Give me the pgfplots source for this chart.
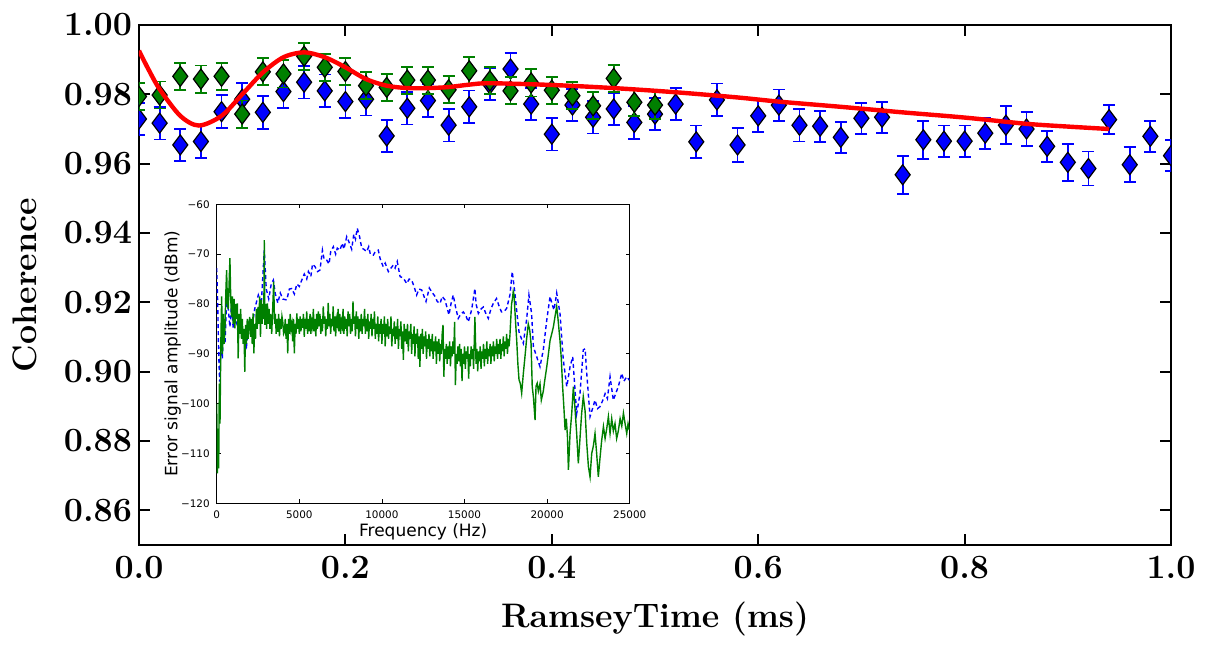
\documentclass[border=0pt]{standalone}
\usepackage{fontspec}
\usepackage{pgfplots}
\pgfplotsset{compat=1.18}
\usetikzlibrary{calc}
\newfontfamily\dejavu{DejaVu Sans}
\definecolor{mplgreen}{rgb}{0,0.5,0}
\begin{document}
\begin{tikzpicture}
\begin{axis}[name=main, scale only axis, width=516pt, height=260pt,
  xmin=0, xmax=1, ymin=0.85, ymax=1.0,
  xtick={0,0.2,0.4,0.6,0.8,1.0},
  ytick={0.86,0.88,0.90,0.92,0.94,0.96,0.98,1.00},
  tick align=inside, major tick length=5.5pt,
  every tick/.style={black, line width=1pt},
  axis line style={line width=1.3pt},
  /pgf/number format/assume math mode=true,
  tick label style={font=\fontsize{17}{20}\selectfont\bfseries},
  xticklabel style={/pgf/number format/.cd, fixed, fixed zerofill, precision=1},
  yticklabel style={/pgf/number format/.cd, fixed, fixed zerofill, precision=2},
  xticklabel shift=2pt,
  xlabel={RamseyTime (ms)}, ylabel={Coherence},
  label style={font=\fontsize{17}{20}\selectfont\bfseries},
  xlabel style={at={(axis description cs:0.5,-0.1423)}, anchor=center},
  ylabel style={at={(axis description cs:-0.1105,0.5)}, anchor=center},
  clip marker paths=true,
]
\addplot[only marks, mark=diamond*, mark size=5pt,
  mark options={draw=black, fill=blue, line width=0.6pt},
  error bars/.cd, y dir=both, y explicit,
  error bar style={blue, line width=0.9pt},
  error mark options={rotate=90, blue, line width=0.9pt, mark size=3pt}]
coordinates {
(0.00,0.9729) +- (0,0.0047)
(0.02,0.9717) +- (0,0.0047)
(0.04,0.9654) +- (0,0.0047)
(0.06,0.9664) +- (0,0.0047)
(0.08,0.9750) +- (0,0.0047)
(0.10,0.9786) +- (0,0.0047)
(0.12,0.9748) +- (0,0.0047)
(0.14,0.9808) +- (0,0.0047)
(0.16,0.9835) +- (0,0.0047)
(0.18,0.9810) +- (0,0.0047)
(0.20,0.9779) +- (0,0.0047)
(0.22,0.9786) +- (0,0.0047)
(0.24,0.9680) +- (0,0.0047)
(0.26,0.9760) +- (0,0.0047)
(0.28,0.9782) +- (0,0.0047)
(0.30,0.9711) +- (0,0.0047)
(0.32,0.9764) +- (0,0.0047)
(0.34,0.9830) +- (0,0.0047)
(0.36,0.9873) +- (0,0.0047)
(0.38,0.9772) +- (0,0.0047)
(0.40,0.9685) +- (0,0.0047)
(0.42,0.9769) +- (0,0.0047)
(0.44,0.9734) +- (0,0.0047)
(0.46,0.9758) +- (0,0.0047)
(0.48,0.9719) +- (0,0.0047)
(0.50,0.9743) +- (0,0.0047)
(0.52,0.9772) +- (0,0.0047)
(0.54,0.9663) +- (0,0.0047)
(0.56,0.9784) +- (0,0.0047)
(0.58,0.9654) +- (0,0.0050)
(0.60,0.9738) +- (0,0.0047)
(0.62,0.9769) +- (0,0.0045)
(0.64,0.9711) +- (0,0.0047)
(0.66,0.9708) +- (0,0.0045)
(0.68,0.9676) +- (0,0.0045)
(0.70,0.9731) +- (0,0.0045)
(0.72,0.9734) +- (0,0.0045)
(0.74,0.9568) +- (0,0.0055)
(0.76,0.9669) +- (0,0.0055)
(0.78,0.9665) +- (0,0.0045)
(0.80,0.9665) +- (0,0.0045)
(0.82,0.9688) +- (0,0.0045)
(0.84,0.9711) +- (0,0.0055)
(0.86,0.9700) +- (0,0.0050)
(0.88,0.9650) +- (0,0.0045)
(0.90,0.9604) +- (0,0.0053)
(0.92,0.9586) +- (0,0.0049)
(0.94,0.9727) +- (0,0.0042)
(0.96,0.9597) +- (0,0.0050)
(0.98,0.9679) +- (0,0.0045)
(1.00,0.9623) +- (0,0.0045)
};
\addplot[only marks, mark=diamond*, mark size=5pt,
  mark options={draw=black, fill=mplgreen, line width=0.6pt},
  error bars/.cd, y dir=both, y explicit,
  error bar style={mplgreen, line width=0.9pt},
  error mark options={rotate=90, mplgreen, line width=0.9pt, mark size=3pt}]
coordinates {
(0.00,0.9794) +- (0,0.0039)
(0.02,0.9798) +- (0,0.0039)
(0.04,0.9852) +- (0,0.0039)
(0.06,0.9844) +- (0,0.0039)
(0.08,0.9852) +- (0,0.0039)
(0.10,0.9743) +- (0,0.0039)
(0.12,0.9865) +- (0,0.0039)
(0.14,0.9859) +- (0,0.0039)
(0.16,0.9910) +- (0,0.0039)
(0.18,0.9878) +- (0,0.0039)
(0.20,0.9866) +- (0,0.0039)
(0.22,0.9825) +- (0,0.0039)
(0.24,0.9820) +- (0,0.0039)
(0.26,0.9841) +- (0,0.0039)
(0.28,0.9841) +- (0,0.0039)
(0.30,0.9813) +- (0,0.0039)
(0.32,0.9868) +- (0,0.0039)
(0.34,0.9839) +- (0,0.0039)
(0.36,0.9810) +- (0,0.0039)
(0.38,0.9833) +- (0,0.0039)
(0.40,0.9812) +- (0,0.0039)
(0.42,0.9796) +- (0,0.0039)
(0.44,0.9767) +- (0,0.0039)
(0.46,0.9846) +- (0,0.0039)
(0.48,0.9777) +- (0,0.0039)
(0.50,0.9769) +- (0,0.0039)
};
\addplot[red, line width=2.2pt, smooth] coordinates {
(0.000,0.9926) (0.009,0.9873) (0.020,0.9815) (0.040,0.9738) (0.058,0.9710)
(0.080,0.9738) (0.100,0.9800) (0.120,0.9863) (0.140,0.9907) (0.160,0.9921)
(0.180,0.9907) (0.200,0.9878) (0.220,0.9844) (0.240,0.9825) (0.260,0.9818)
(0.280,0.9818) (0.300,0.9821) (0.320,0.9828) (0.340,0.9832) (0.400,0.9827)
(0.460,0.9818) (0.520,0.9806) (0.580,0.9791) (0.620,0.9779) (0.680,0.9764)
(0.740,0.9748) (0.800,0.9733) (0.860,0.9715) (0.900,0.9707) (0.940,0.9700)
};
\end{axis}
\begin{axis}[at={($(main.south west)+(38.85pt,20.85pt)$)}, anchor=south west,
  scale only axis, width=206.5pt, height=149.5pt,
  xmin=0, xmax=25000, ymin=-120, ymax=-60,
  scaled x ticks=false, scaled y ticks=false,
  xtick={0,5000,10000,15000,20000,25000},
  xticklabels={0,5000,10000,15000,20000,25000},
  ytick={-120,-110,-100,-90,-80,-70,-60},
  yticklabels={−120,−110,−100,−90,−80,−70,−60},
  axis background/.style={fill=white},
  tick align=inside, major tick length=2pt,
  every tick/.style={black, line width=0.4pt},
  axis line style={line width=0.5pt},
  tick label style={font=\dejavu\fontsize{5.2}{6}\selectfont},
  xlabel={Frequency (Hz)}, ylabel={Error signal amplitude (dBm)},
  label style={font=\dejavu\fontsize{8.5}{10}\selectfont},
  xlabel style={at={(axis description cs:0.5,-0.094)}, anchor=center},
  ylabel style={at={(axis description cs:-0.1065,0.5)}, anchor=center},
]
\addplot[blue, line width=0.7pt, dash pattern=on 2pt off 1.5pt] coordinates {
(0,-72.8) (60,-80) (120,-90) (180,-95.6) (260,-86.5) (340,-91) (420,-84) (500,-88)
(600,-79.2) (700,-81) (800,-84.6) (900,-80) (1000,-85) (1150,-82) (1300,-86) (1450,-83)
(1600,-87) (1800,-88.6) (1950,-84) (2120,-85.2) (2300,-81) (2520,-78.2) (2700,-80) (2880,-69.2)
(3000,-77) (3150,-79) (3300,-76) (3430,-75.2) (3550,-78) (3700,-79.8) (3850,-77.8) (4000,-79)
(4240,-79.2) (4400,-77) (4540,-76.9) (4700,-78) (4850,-76) (5000,-76.5) (5150,-75.2) (5300,-74)
(5450,-75) (5550,-73.5) (5700,-74.5) (5800,-72) (5950,-72.5) (6100,-73.5) (6250,-73.2) (6400,-69.2)
(6500,-71) (6660,-71.2) (6800,-72) (6900,-69.5) (7060,-68.5) (7200,-70) (7300,-68.8) (7460,-69.2)
(7600,-67.8) (7700,-69) (7870,-66.5) (8000,-67.5) (8170,-69) (8300,-66) (8400,-67) (8510,-64.8)
(8650,-66.5) (8780,-68.8) (8900,-69) (9080,-69.5) (9200,-68.5) (9300,-70) (9480,-70.2) (9600,-69.5)
(9780,-69.2) (9900,-71) (10080,-72.5) (10200,-71.8) (10390,-73.5) (10500,-73) (10690,-72.2) (10800,-72.8)
(10930,-71.5) (11100,-74.5) (11300,-74.8) (11500,-75.9) (11650,-75) (11800,-75.2) (11950,-76.5) (12100,-78.2)
(12250,-77) (12410,-77.2) (12550,-78.5) (12670,-79.5) (12870,-76.8) (13000,-77.5) (13220,-78.5) (13350,-79.5)
(13520,-79.9) (13650,-78.5) (13820,-79.2) (14060,-82.2) (14180,-80) (14320,-78.2) (14450,-80.5) (14620,-82.9)
(14780,-82) (14930,-81.6) (15100,-82.5) (15230,-83.6) (15430,-81.2) (15630,-76.9) (15700,-80) (15840,-81.9)
(16000,-81) (16140,-80.6) (16300,-82) (16440,-82.9) (16600,-81) (16740,-79.9) (16940,-78.9) (17100,-80.5)
(17240,-81.6) (17400,-81.5) (17550,-80.9) (17750,-78.2) (17890,-73.5) (18050,-77.8) (18180,-82) (18300,-85.6)
(18450,-87) (18560,-87.9) (18760,-83.1) (18900,-78.2) (19060,-81.9) (19170,-88.6) (19370,-90.6) (19570,-92.6)
(19770,-89.2) (19980,-83.2) (20180,-78.5) (20300,-80) (20420,-81.2) (20580,-77.8) (20780,-81.9) (20980,-91.2)
(21190,-96.6) (21390,-92.6) (21550,-90.6) (21790,-102) (21990,-98) (22190,-89.2) (22300,-89) (22400,-93.9)
(22600,-102.6) (22750,-101) (22900,-99.3) (23050,-101) (23200,-100.6) (23350,-99.5) (23510,-98) (23650,-99)
(23810,-94.6) (24010,-99.3) (24150,-98) (24310,-96.6) (24520,-93.9) (24650,-95.5) (24820,-94.6) (24980,-95.3)
};
\addplot[mplgreen, line width=0.7pt] coordinates {
(0,-100) (40,-114) (80,-105) (120,-113) (160,-96) (200,-104) (250,-88) (300,-78.5)
(350,-90) (400,-82) (450,-88) (500,-85) (550,-78) (600,-73.2) (650,-80) (700,-81)
(750,-76) (800,-70.8) (850,-79) (900,-82.6) (950,-78.5) (1000,-84) (1050,-79) (1100,-84.9)
(1150,-80) (1200,-83) (1250,-79.9) (1300,-90.9) (1350,-82) (1400,-86) (1450,-81) (1500,-87)
(1550,-83) (1600,-88) (1650,-85) (1700,-93.6) (1750,-84.2) (1800,-88) (1850,-83) (1900,-87)
(1950,-84) (2000,-82.6) (2050,-86.6) (2100,-83) (2150,-88) (2200,-81.9) (2250,-89.9) (2300,-84)
(2350,-87) (2400,-81) (2450,-85) (2500,-80.6) (2550,-84) (2600,-78.5) (2650,-86.6) (2700,-79.2)
(2750,-84) (2800,-80) (2850,-83) (2880,-67.2) (2920,-84.2) (2970,-80) (3020,-85) (3070,-79.9)
(3120,-84) (3170,-81) (3220,-85) (3270,-82) (3330,-86) (3400,-80) (3450,-75.5) (3500,-84)
(3550,-82) (3600,-86) (3650,-83) (3700,-85.6) (3750,-82) (3800,-86.5) (3850,-83) (3900,-85)
(3950,-82.5) (4000,-83.6) (4050,-86) (4100,-85.6) (4150,-83) (4200,-87) (4250,-84) (4300,-89.9)
(4350,-83) (4400,-86) (4450,-82) (4500,-85) (4550,-84) (4600,-87.5) (4650,-83) (4700,-89.9)
(4750,-84) (4800,-86) (4850,-81.9) (4900,-85) (4950,-83) (5000,-86) (5050,-82.5) (5100,-85.5)
(5150,-83) (5200,-84.8) (5250,-82) (5300,-86.6) (5350,-83) (5400,-85) (5450,-81.5) (5500,-86)
(5550,-83) (5600,-85.5) (5650,-82) (5700,-86) (5750,-83.5) (5800,-84.5) (5850,-81) (5900,-85.5)
(5950,-83) (6000,-86.5) (6050,-82) (6100,-85) (6150,-81.5) (6200,-84.5) (6250,-82) (6300,-86)
(6350,-83) (6400,-85.5) (6450,-80.5) (6500,-84) (6550,-82.5) (6600,-86.5) (6650,-83) (6700,-85)
(6750,-79.8) (6800,-84.5) (6850,-82) (6900,-86) (6950,-83) (7000,-84.5) (7050,-80.5) (7100,-85.5)
(7150,-82.5) (7200,-86.5) (7250,-83) (7300,-84) (7350,-81) (7400,-85.5) (7450,-82) (7500,-86)
(7550,-83.5) (7600,-84.5) (7650,-81) (7700,-86) (7750,-82.5) (7800,-85) (7850,-83) (7900,-86.5)
(7950,-81.5) (8000,-84.5) (8050,-82) (8100,-86) (8150,-83) (8200,-85.5) (8250,-79.5) (8300,-84)
(8350,-82.5) (8400,-86.5) (8450,-81.5) (8500,-85) (8550,-82.5) (8600,-87) (8650,-83) (8700,-85.5)
(8750,-82) (8800,-86) (8850,-83) (8900,-84.5) (8950,-81) (9000,-86) (9050,-83) (9100,-85.5)
(9150,-82) (9200,-87) (9250,-83.5) (9300,-85) (9350,-82) (9400,-86.5) (9450,-83) (9500,-85)
(9550,-81.5) (9600,-87) (9650,-84) (9700,-86) (9750,-82.5) (9800,-87.5) (9850,-84) (9900,-86)
(9950,-83) (10000,-88) (10050,-84) (10100,-86) (10150,-82.5) (10200,-88.5) (10250,-84) (10300,-86.5)
(10350,-83) (10400,-87) (10450,-84.5) (10500,-86) (10550,-82.5) (10600,-88.5) (10650,-85) (10700,-86.5)
(10750,-83.5) (10800,-88) (10850,-84.5) (10900,-87) (10950,-83) (11000,-89) (11050,-85) (11100,-86.5)
(11150,-83.5) (11200,-89) (11250,-85.5) (11300,-91.2) (11350,-84) (11400,-87.5) (11450,-85) (11500,-88)
(11550,-84) (11600,-89.5) (11650,-85.5) (11700,-87) (11750,-84) (11800,-90) (11850,-86) (11900,-88)
(11950,-84.5) (12000,-90.5) (12050,-86) (12100,-88) (12150,-85) (12200,-91) (12250,-86.5) (12300,-92.6)
(12350,-86) (12400,-89) (12450,-85) (12500,-90) (12550,-86.5) (12600,-88.5) (12650,-85.5) (12700,-91)
(12750,-87) (12800,-89) (12850,-86) (12900,-90.5) (12950,-87) (13000,-89.5) (13050,-86) (13100,-91)
(13150,-87.5) (13200,-89.5) (13250,-86.5) (13300,-92) (13350,-87.5) (13400,-90) (13450,-87) (13500,-91.5)
(13550,-88) (13600,-90) (13650,-86) (13700,-84.2) (13750,-94.6) (13800,-89) (13850,-91) (13900,-88)
(13950,-92) (14000,-88.5) (14050,-91) (14100,-87.5) (14150,-92.5) (14200,-88.5) (14250,-90.5) (14300,-87.5)
(14350,-90) (14400,-83.6) (14450,-96.3) (14500,-90) (14550,-92) (14600,-88.5) (14650,-91.5) (14700,-88)
(14750,-92.5) (14800,-89) (14850,-95.5) (14900,-90) (14950,-92) (15000,-88.5) (15050,-93) (15100,-89.5)
(15150,-91) (15200,-88.5) (15250,-95) (15300,-90) (15350,-92.5) (15400,-88.5) (15450,-91) (15500,-89)
(15550,-93) (15630,-82.6) (15700,-92) (15750,-89) (15800,-93.5) (15850,-89.5) (15900,-91.5) (15950,-88.5)
(16000,-93) (16050,-89.5) (16100,-91) (16150,-88) (16200,-92.5) (16250,-89) (16300,-91) (16350,-87.5)
(16400,-92) (16450,-89) (16500,-90.5) (16550,-88) (16600,-92) (16650,-88.5) (16700,-90.5) (16750,-87.5)
(16800,-91.5) (16850,-88.5) (16900,-90) (16950,-87) (17000,-91) (17050,-88) (17100,-90) (17150,-87)
(17200,-91) (17250,-88) (17300,-89.5) (17350,-86.5) (17400,-90.5) (17450,-87.5) (17500,-89) (17550,-86)
(17600,-90) (17650,-87) (17700,-88.5) (17750,-86.3) (17800,-83) (17850,-80) (17900,-79) (17950,-77.5)
(18000,-78.2) (18080,-83) (18160,-87.3) (18230,-92) (18300,-95.2) (18380,-96) (18460,-97.9) (18560,-94)
(18660,-90.6) (18760,-87) (18860,-84) (18950,-85.3) (19030,-88) (19100,-96.6) (19170,-98.6) (19270,-103.3)
(19330,-96.5) (19400,-95.9) (19470,-97.5) (19570,-96) (19650,-99.3) (19770,-97.5) (19850,-95.5) (19980,-92.6)
(20080,-90) (20180,-87.3) (20280,-86) (20380,-84.6) (20480,-82.5) (20580,-80.5) (20660,-83) (20780,-87.3)
(20860,-91) (20940,-96.6) (21020,-101) (21090,-105.3) (21160,-103) (21230,-106.5) (21290,-113.3) (21390,-106)
(21490,-102) (21590,-96.6) (21690,-101) (21790,-106) (21890,-112) (21990,-107) (22090,-102) (22190,-98.6)
(22300,-101.5) (22400,-108) (22500,-112.6) (22600,-114.7) (22700,-110) (22800,-108.5) (22900,-106) (23000,-110)
(23100,-114.7) (23200,-111) (23300,-107.5) (23410,-104.6) (23510,-107) (23610,-105) (23710,-102.6) (23810,-106)
(23910,-103) (24010,-105.5) (24110,-104) (24210,-107) (24310,-105.5) (24420,-103) (24520,-104.5) (24620,-101.9)
(24720,-104) (24820,-106) (24900,-104) (24980,-105.3)
};
\end{axis}
\pgfresetboundingbox
\path ($(main.south west)+(-69.5pt,-49.5pt)$) rectangle ($(main.north east)+(18pt,12.5pt)$);
\end{tikzpicture}
\end{document}
